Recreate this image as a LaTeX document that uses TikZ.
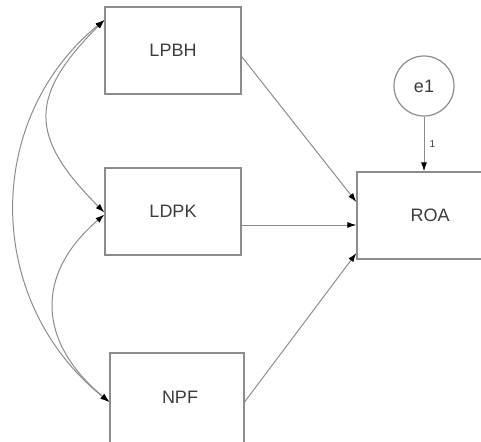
\documentclass[tikz,border=0pt]{standalone}
\usepackage{fontspec}
\setmainfont{Liberation Sans}
\usetikzlibrary{arrows.meta}
\definecolor{linegray}{RGB}{140,140,140}
\definecolor{textgray}{RGB}{60,60,60}
\begin{document}
\begin{tikzpicture}[x=1pt,y=-1pt,
  box/.style={draw=linegray,line width=1.2pt,minimum width=136pt,minimum height=87pt,inner sep=0pt,
    text=textgray,font=\fontsize{18}{20}\selectfont},
  errc/.style={draw=linegray,line width=1.2pt,circle,minimum size=60pt,inner sep=0pt,
    text=textgray,font=\fontsize{18}{20}\selectfont},
  arr/.style={draw=linegray,line width=1pt,-{Latex[length=9pt,width=6pt,color=black]}},
  cov/.style={draw=linegray,line width=1pt,{Latex[length=9pt,width=6pt,color=black]}-{Latex[length=9pt,width=6pt,color=black]}},
  lbl/.style={text=textgray,font=\fontsize{10}{11}\selectfont,inner sep=1pt}]
\useasboundingbox (0,0) rectangle (481,441);
\node[box] (LPBH) at (173,50.5) {LPBH};
\node[box] (LDPK) at (173,211.5) {LDPK};
\node[box,minimum width=134pt,minimum height=100pt] (NPF) at (177,403) {\hspace*{6pt}\raisebox{12pt}{NPF}};
\node[box,minimum width=160pt] (ROA) at (437,215.5) {ROA\hspace*{14pt}};
\node[errc] (e1) at (424,86) {e1};
% paths to ROA
\draw[arr] ([yshift=-6pt]LPBH.east) -- ([yshift=13.5pt]ROA.west);
\draw[arr] ([yshift=-13.5pt]LDPK.east) -- ([yshift=-9.5pt]ROA.west);
\draw[arr] ([yshift=1pt]NPF.east) -- ([yshift=-37.5pt]ROA.west);
\draw[arr] (e1.south) -- node[lbl,right=4pt] {1} (e1.south |- ROA.north);
% covariances
\draw[cov] ([yshift=30.5pt]LPBH.west) .. controls +(-76,76) and +(-76,-76) .. ([yshift=-1pt]LDPK.west);
\draw[cov] ([yshift=-3pt]LDPK.west) .. controls +(-70,60) and +(-72,-60) .. ([yshift=1pt]NPF.west);
\draw[cov] ([yshift=30.5pt]LPBH.west) .. controls +(-122,100) and +(-125,-100) .. ([yshift=1pt]NPF.west);
\end{tikzpicture}
\end{document}
